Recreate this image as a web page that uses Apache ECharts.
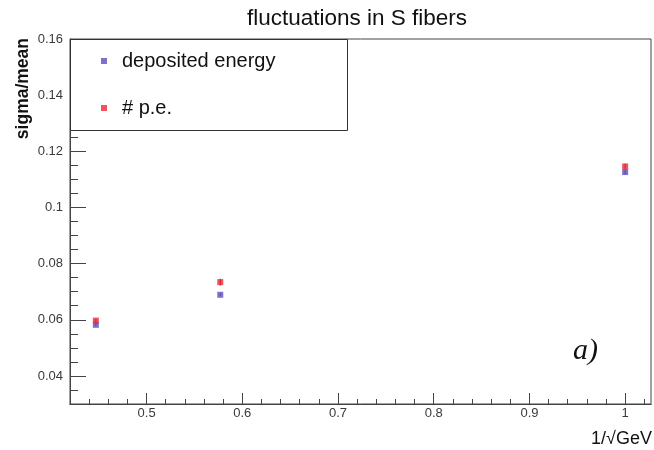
<!DOCTYPE html>
<html>
<head>
<meta charset="utf-8">
<script src="https://cdn.jsdelivr.net/npm/echarts@6/dist/echarts.min.js"></script>
<style>
  html, body { margin: 0; padding: 0; background: #fff; }
  #chart { width: 654px; height: 450px; }
</style>
</head>
<body>
<div id="chart"></div>
<script>
// x = 1/sqrt(E) for E = 5, 3, 1 GeV
const xValues = [0.447, 0.577, 1.0];
const depositedEnergy = [0.0582, 0.0689, 0.1126];
const depositedErr = [0.0004, 0.0004, 0.0007];
const photoElectrons = [0.0597, 0.0734, 0.1146];
const photoErr = [0.0006, 0.0012, 0.0010];

const xMajorTicks = [0.5, 0.6, 0.7, 0.8, 0.9, 1.0];
const xMinorTicks = [0.44, 0.46, 0.48, 0.52, 0.54, 0.56, 0.58, 0.62, 0.64, 0.66, 0.68,
  0.72, 0.74, 0.76, 0.78, 0.82, 0.84, 0.86, 0.88, 0.92, 0.94, 0.96, 0.98, 1.02];
const yMajorTicks = [0.04, 0.06, 0.08, 0.1, 0.12, 0.14, 0.16];
const yMinorTicks = [0.035, 0.045, 0.05, 0.055, 0.065, 0.07, 0.075, 0.085, 0.09, 0.095,
  0.105, 0.11, 0.115, 0.125, 0.13, 0.135, 0.145, 0.15, 0.155];

const font = 'Liberation Sans';
const xRange = { min: 0.42, max: 1.027 };
const yRange = { min: 0.03, max: 0.16 };

function pairs(xs, ys) {
    return xs.map((x, i) => [x, ys[i]]);
}

function errorSeries(name, ys, errs) {
    return {
        type: 'custom',
        name: name,
        silent: true,
        z: 1,
        data: xValues.map((x, i) => [x, ys[i] - errs[i], ys[i] + errs[i]]),
        renderItem: (params, api) => {
            const lo = api.coord([api.value(0), api.value(1)]);
            const hi = api.coord([api.value(0), api.value(2)]);
            return {
                type: 'line',
                shape: { x1: lo[0], y1: lo[1], x2: hi[0], y2: hi[1] },
                style: { stroke: '#222', lineWidth: 1 }
            };
        }
    };
}

function valueAxis(range, ticks, len, labelMargin, position) {
    return {
        type: 'value',
        position: position,
        min: range.min,
        max: range.max,
        axisLine: { show: true, lineStyle: { color: '#444', width: 1 } },
        axisTick: { show: true, inside: true, length: len, customValues: ticks, lineStyle: { color: '#444' } },
        axisLabel: labelMargin != null
            ? { show: true, customValues: ticks, color: '#3a3a3a', fontSize: 13, fontFamily: font, margin: labelMargin }
            : { show: false },
        splitLine: { show: false }
    };
}

const chart = echarts.init(document.getElementById('chart'));
chart.setOption({
    animation: false,
    backgroundColor: '#fff',
    title: {
        text: 'fluctuations in S fibers',
        left: 352, top: 2, textAlign: 'center',
        textStyle: { fontFamily: font, fontSize: 22.5, fontWeight: 'normal', color: '#111' }
    },
    grid: { left: 70, right: 3, top: 39, bottom: 46, show: true, borderColor: '#444', borderWidth: 1 },
    xAxis: [
        valueAxis(xRange, xMajorTicks, 11, 3, 'bottom'),
        valueAxis(xRange, xMinorTicks, 5, null, 'bottom')
    ],
    yAxis: [
        valueAxis(yRange, yMajorTicks, 16, 7, 'left'),
        valueAxis(yRange, yMinorTicks, 8, null, 'left')
    ],
    legend: {
        left: 96, top: 45, orient: 'vertical', itemGap: 25, z: 5,
        icon: 'rect', itemWidth: 6, itemHeight: 6,
        data: ['deposited energy', '# p.e.'],
        textStyle: { fontFamily: font, fontSize: 20, lineHeight: 22, color: '#111', padding: [0, 0, 0, 10] }
    },
    graphic: [
        {
            type: 'rect', left: 70, top: 39, z: 4,
            shape: { width: 277, height: 91 },
            style: { fill: '#fff', stroke: '#333', lineWidth: 1 }
        },
        {
            type: 'text', left: 573, top: 336, z: 4,
            style: { text: 'a)', font: 'italic 30px "Liberation Serif"', fill: '#111' }
        },
        {
            type: 'text', right: 2, top: 430, z: 4,
            style: { text: '1/√GeV', font: '18px "Liberation Sans"', fill: '#111' }
        },
        {
            type: 'text', left: 14, top: 38, rotation: Math.PI / 2, z: 4,
            style: { text: 'sigma/mean', font: 'bold 17.5px "Liberation Sans"', fill: '#111' }
        }
    ],
    series: [
        errorSeries('deposited energy err', depositedEnergy, depositedErr),
        errorSeries('# p.e. err', photoElectrons, photoErr),
        {
            name: 'deposited energy', type: 'scatter', symbol: 'rect', symbolSize: 6, z: 3,
            itemStyle: { color: '#5a4fbf' },
            data: pairs(xValues, depositedEnergy)
        },
        {
            name: '# p.e.', type: 'scatter', symbol: 'rect', symbolSize: 6, z: 3,
            itemStyle: { color: '#ee2538' },
            data: pairs(xValues, photoElectrons)
        }
    ]
});
</script>
</body>
</html>
